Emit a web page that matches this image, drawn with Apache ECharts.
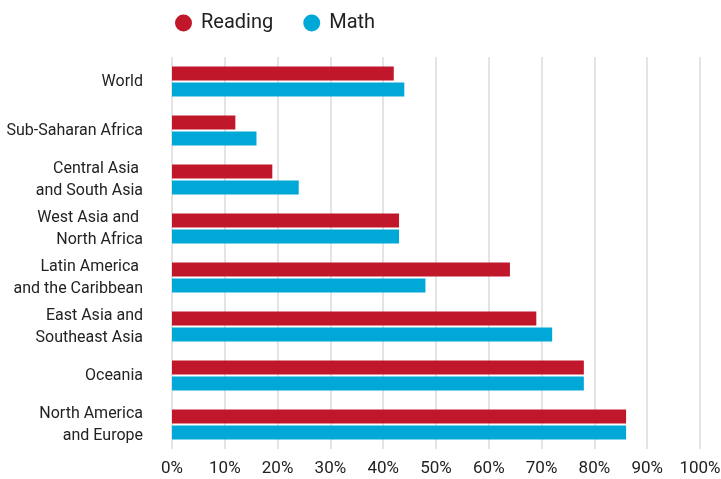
<!DOCTYPE html>
<html>
<head>
<meta charset="utf-8">
<script src="https://cdn.jsdelivr.net/npm/echarts@6/dist/echarts.min.js"></script>
<style>
  html, body { margin: 0; padding: 0; background: #fff; }
  #chart { width: 721px; height: 479px; }
</style>
</head>
<body>
<div id="chart"></div>
<script>
// regions, top to bottom
const regions = [
  "World",
  "Sub-Saharan Africa",
  "Central Asia \nand South Asia",
  "West Asia and \nNorth Africa",
  "Latin America \nand the Caribbean",
  "East Asia and\nSoutheast Asia",
  "Oceania",
  "North America\nand Europe"
];
const reading = [42, 12, 19, 43, 64, 69, 78, 86];
const math = [44, 16, 24, 43, 48, 72, 78, 86];
const xTicks = [0, 10, 20, 30, 40, 50, 60, 70, 80, 90, 100];

const labelFont = "Roboto, sans-serif";

const chart = echarts.init(document.getElementById("chart"));
chart.setOption({
  animation: false,
  color: ["#c0172a", "#00a8d8"],
  legend: {
    data: ["Reading", "Math"],
    left: 170,
    top: 8,
    icon: "circle",
    itemWidth: 17,
    itemHeight: 17,
    itemGap: 30,
    textStyle: { fontFamily: "Roboto, sans-serif", fontSize: 20, color: "#222", padding: [0, 0, 0, 4] }
  },
  grid: { left: 172, right: 21, top: 57, bottom: 30, containLabel: false, outerBoundsMode: "none" },
  xAxis: {
    type: "value",
    min: xTicks[0],
    max: xTicks[xTicks.length - 1],
    interval: 10,
    axisLine: { show: false },
    axisTick: { show: false },
    splitLine: { lineStyle: { color: "#e4e4e4", width: 2 } },
    axisLabel: {
      formatter: "{value}%",
      fontFamily: labelFont,
      fontSize: 17,
      color: "#222",
      margin: 11
    }
  },
  yAxis: {
    type: "category",
    inverse: true,
    data: regions,
    axisLine: { show: false },
    axisTick: { show: false },
    axisLabel: {
      fontFamily: labelFont,
      fontSize: 16,
      lineHeight: 22,
      color: "#222",
      margin: 29
    }
  },
  series: [
    { name: "Reading", type: "bar", data: reading, barWidth: 14, barGap: "15%" },
    { name: "Math", type: "bar", data: math, barWidth: 14, barGap: "15%" }
  ]
});
</script>
</body>
</html>
